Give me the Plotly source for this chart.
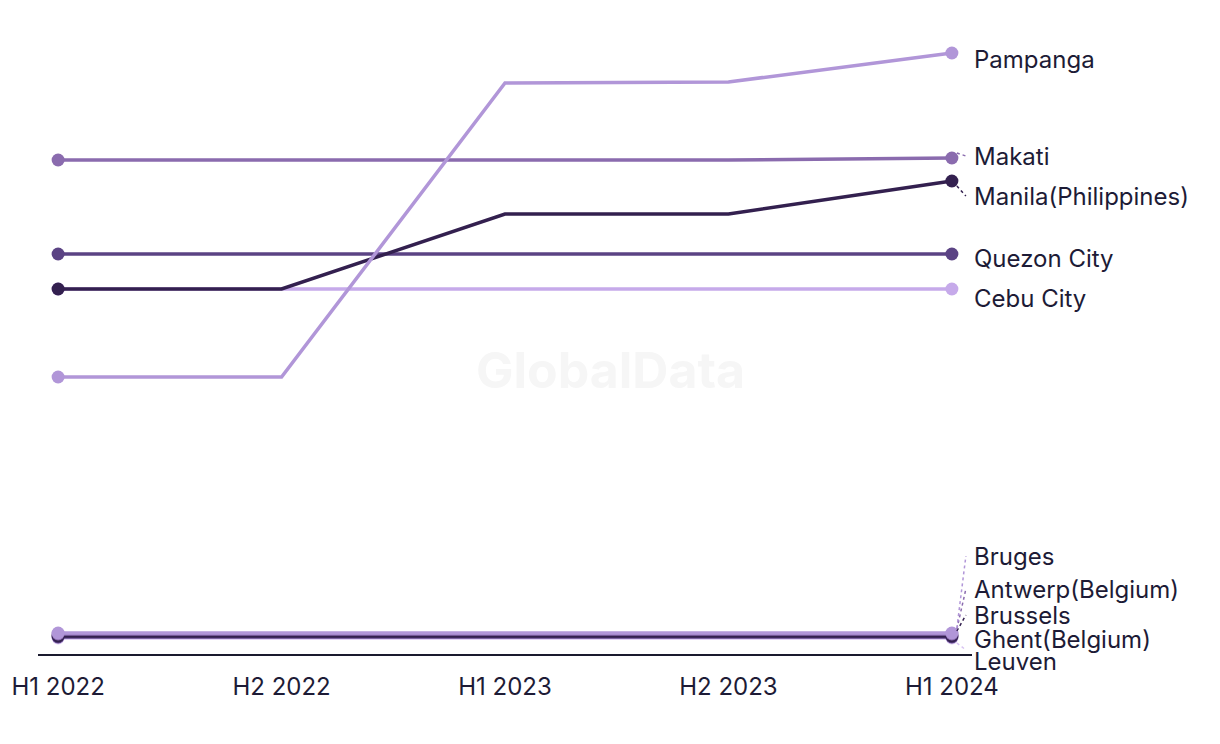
import plotly.graph_objects as go

# ---------------- data ----------------
periods = ["H1 2022", "H2 2022", "H1 2023", "H2 2023", "H1 2024"]

pampanga = [27.7, 27.7, 57.1, 57.2, 60.1]
makati = [49.4, 49.4, 49.4, 49.4, 49.6]
manila = [36.5, 36.5, 44.0, 44.0, 47.3]
quezon_city = [40.0, 40.0, 40.0, 40.0, 40.0]
cebu_city = [36.5, 36.5, 36.5, 36.5, 36.5]
bruges = [2.1, 2.1, 2.1, 2.1, 2.1]
antwerp = [2.0, 2.0, 2.0, 2.0, 2.0]
brussels = [1.8, 1.8, 1.8, 1.8, 1.8]
ghent = [1.7, 1.7, 1.7, 1.7, 1.7]
leuven = [1.6, 1.6, 1.6, 1.6, 1.6]

series_names = ["Cebu City", "Quezon City", "Manila(Philippines)", "Makati", "Pampanga",
                "Leuven", "Ghent(Belgium)", "Brussels", "Antwerp(Belgium)", "Bruges"]
series_values = [cebu_city, quezon_city, manila, makati, pampanga,
                 leuven, ghent, brussels, antwerp, bruges]

# ---------------- style ----------------
colors = {
    "Pampanga": "#b196d8",
    "Makati": "#8a6bae",
    "Manila(Philippines)": "#33204f",
    "Quezon City": "#5b4384",
    "Cebu City": "#c6aaea",
    "Bruges": "#b196d8",
    "Antwerp(Belgium)": "#8a6bae",
    "Brussels": "#33204f",
    "Ghent(Belgium)": "#5b4384",
    "Leuven": "#d9c4f2",
}
# vertical pixel offset of each end label relative to its end point (positive = down)
label_offset_px = {
    "Pampanga": 6, "Makati": -2, "Manila(Philippines)": 15, "Quezon City": 4,
    "Cebu City": 9, "Bruges": -77, "Antwerp(Belgium)": -45, "Brussels": -21,
    "Ghent(Belgium)": 2, "Leuven": 23,
}
leader = {"Makati", "Manila(Philippines)", "Bruges", "Antwerp(Belgium)", "Brussels", "Leuven"}

W, H = 1220, 744
ML, MR, MT, MB = 38, 248, 20, 90
XR = [-0.09, 4.09]
YR = [0, 63.4]
px_per_x = (W - ML - MR) / (XR[1] - XR[0])
px_per_y = (H - MT - MB) / (YR[1] - YR[0])
TEXT = "#1d1b36"
FONT = "Inter, 'Liberation Sans', sans-serif"

xs = list(range(len(periods)))
fig = go.Figure()

for name, vals in zip(series_names, series_values):
    c = colors[name]
    fig.add_trace(go.Scatter(
        x=xs, y=vals, mode="lines+markers", name=name,
        line=dict(color=c, width=3.5),
        marker=dict(color=c, size=[13, 0, 0, 0, 13], opacity=1, line=dict(width=0)),
        showlegend=False, hoverinfo="x+y+name",
    ))

for name, vals in zip(series_names, series_values):
    end_x, end_y = xs[-1], vals[-1]
    off = label_offset_px[name]
    fig.add_annotation(x=end_x, y=end_y, xref="x", yref="y", text=name,
                       xshift=20, yshift=-off,
                       showarrow=False, xanchor="left", yanchor="middle",
                       font=dict(family=FONT, size=24, color=TEXT))
    if name in leader:
        label_y = max(end_y - off / px_per_y, 0.4)
        sign = 1 if off > 0 else -1
        fig.add_trace(go.Scatter(
            x=[end_x + 5 / px_per_x, end_x + 14 / px_per_x],
            y=[end_y - sign * 5 / px_per_y, label_y],
            mode="lines", line=dict(color=colors[name], width=1.5, dash="dot"),
            showlegend=False, hoverinfo="skip",
        ))

fig.add_annotation(x=(W / 2 - ML) / (W - ML - MR), y=(H - MB - (H / 2 - 2)) / (H - MT - MB),
                   xref="paper", yref="paper", text="<b>GlobalData</b>",
                   showarrow=False, font=dict(family=FONT, size=50, color="#f6f6f6"))

fig.update_layout(
    width=W, height=H,
    margin=dict(l=ML, r=MR, t=MT, b=MB),
    paper_bgcolor="white", plot_bgcolor="white",
    xaxis=dict(range=XR, tickvals=xs, ticktext=periods, showgrid=False, zeroline=False,
               showline=True, linecolor="#1a1a2e", linewidth=2,
               ticks="outside", ticklen=10, tickcolor="rgba(0,0,0,0)",
               tickfont=dict(family=FONT, size=24, color=TEXT)),
    yaxis=dict(range=YR, visible=False, showgrid=False, zeroline=False),
)

fig.write_html("out.html", config={"displayModeBar": False},
               post_script="document.body.style.margin='0';document.body.style.overflow='hidden';")
